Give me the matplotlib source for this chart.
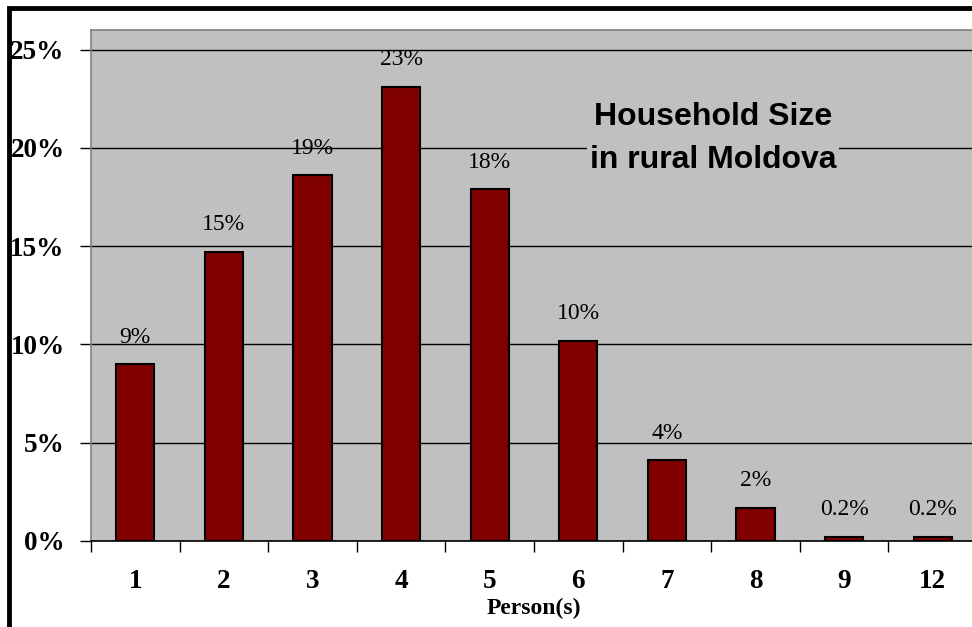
import matplotlib
matplotlib.use('Agg')
import matplotlib.pyplot as plt
from matplotlib.patches import Rectangle

# household size distribution, rural Moldova
sizes = ['1', '2', '3', '4', '5', '6', '7', '8', '9', '12']
shares = [9.0, 14.7, 18.6, 23.1, 17.9, 10.2, 4.1, 1.7, 0.2, 0.2]
labels = ['9%', '15%', '19%', '23%', '18%', '10%', '4%', '2%', '0.2%', '0.2%']
yticks = [0, 5, 10, 15, 20, 25]

serif = 'Liberation Serif'
sans = 'Liberation Sans'

fig = plt.figure(figsize=(9.72, 6.27), dpi=100)
fig.patch.set_facecolor('white')

# outer chart border (cropped on right and bottom in the reference)
fig.patches.append(Rectangle((0.0093, -0.2), 1.5, 1.187, transform=fig.transFigure,
                             fill=False, edgecolor='black', linewidth=3.5))

ax = fig.add_axes([0.0936, 0.1372, 0.9115, 0.815])
ax.set_facecolor('#C0C0C0')

x = list(range(len(sizes)))
ax.bar(x, shares, width=0.43, color='#800000', edgecolor='black', linewidth=1.5, zorder=3)

for xi, v, lab in zip(x, shares, labels):
    ax.annotate(lab, (xi, v), xytext=(0, 19.5), textcoords='offset points',
                ha='center', va='center', fontsize=17, family=serif, color='black')

ax.set_xlim(-0.5, len(sizes) - 0.5)
ax.set_ylim(0, 26)
ax.set_yticks(yticks)
ax.set_yticklabels([f'{t}%' for t in yticks], fontsize=19.5, family=serif, fontweight='bold')
ax.yaxis.grid(True, color='black', linewidth=1, zorder=1)
ax.set_axisbelow(True)

ax.set_xticks(x)
ax.set_xticklabels(sizes, fontsize=19.5, family=serif, fontweight='bold')
ax.set_xticks([i - 0.5 for i in range(len(sizes) + 1)], minor=True)
ax.tick_params(axis='x', which='major', length=0, pad=20)
ax.tick_params(axis='x', which='minor', length=8, width=1, direction='out')
ax.tick_params(axis='y', length=8, width=1, direction='out', pad=11)

ax.set_xlabel('Person(s)', fontsize=17, family=serif, fontweight='bold', labelpad=3)

for side in ['left', 'top', 'right']:
    ax.spines[side].set_color('#808080')
    ax.spines[side].set_linewidth(1.2)
ax.spines['bottom'].set_color('black')
ax.spines['bottom'].set_linewidth(1.2)

ax.text(0.702, 0.787, 'Household Size\nin rural Moldova', transform=ax.transAxes,
        ha='center', va='center', fontsize=23, family=sans, fontweight='bold',
        linespacing=1.55, zorder=5,
        bbox=dict(facecolor='#C0C0C0', edgecolor='none', pad=2))

fig.savefig('out.png', dpi=100)
